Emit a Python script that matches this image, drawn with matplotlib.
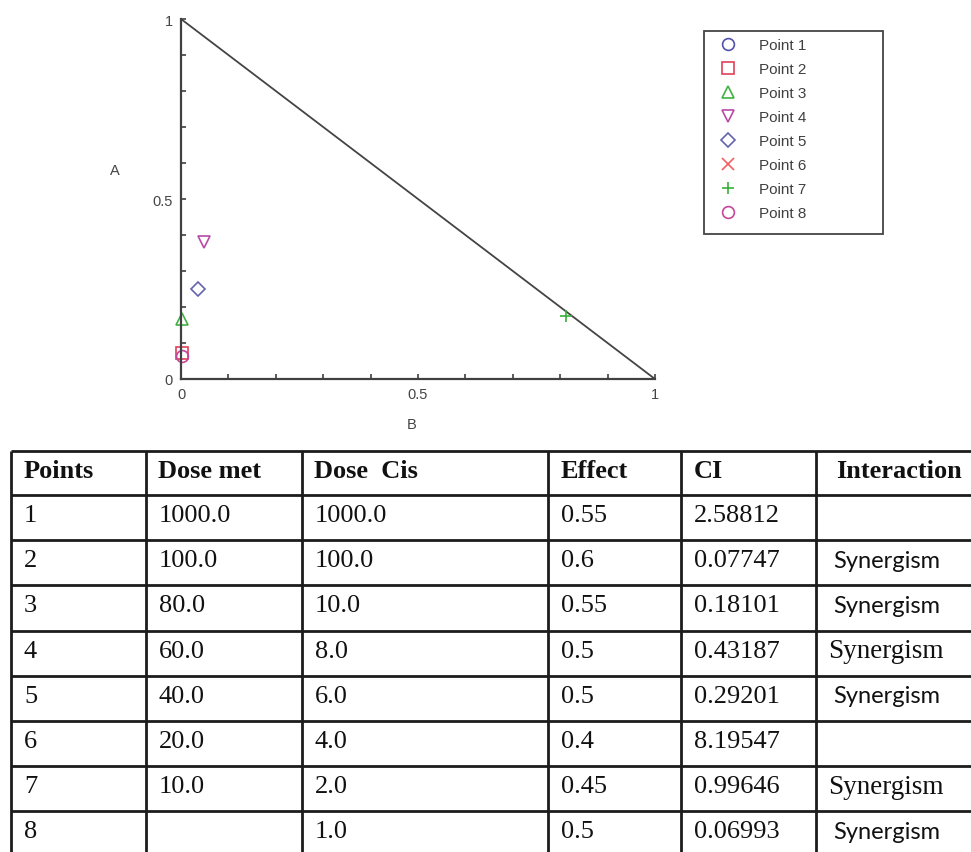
import numpy as np
import matplotlib
matplotlib.use("Agg")
import matplotlib.pyplot as plt
from matplotlib.patches import Rectangle

# Normalised isobologram coordinates (B = Cis, A = met); points 1 and 6 fall off the chart
point_labels = ["Point 1", "Point 2", "Point 3", "Point 4",
                "Point 5", "Point 6", "Point 7", "Point 8"]
norm_b = [np.nan, 0.002, 0.002, 0.048, 0.036, np.nan, 0.813, 0.003]
norm_a = [np.nan, 0.072, 0.166, 0.381, 0.249, np.nan, 0.176, 0.064]
markers = ["o", "s", "^", "v", "D", "x", "+", "o"]
colors = ["#5252aa", "#e0405a", "#44b044", "#b84aa8",
          "#6464ae", "#f06060", "#38b038", "#c2489a"]

# Table contents
table_header = ["Points", "Dose met", "Dose  Cis", "Effect", "CI", "Interaction"]
points = ["1", "2", "3", "4", "5", "6", "7", "8"]
dose_met = ["1000.0", "100.0", "80.0", "60.0", "40.0", "20.0", "10.0", ""]
dose_cis = ["1000.0", "100.0", "10.0", "8.0", "6.0", "4.0", "2.0", "1.0"]
effect = ["0.55", "0.6", "0.55", "0.5", "0.5", "0.4", "0.45", "0.5"]
ci = ["2.58812", "0.07747", "0.18101", "0.43187", "0.29201", "8.19547", "0.99646", "0.06993"]
interaction = ["", "Synergism", "Synergism", "Synergism", "Synergism", "", "Synergism", "Synergism"]
interaction_font = ["", "sans", "sans", "serif", "sans", "", "serif", "sans"]

W, H = 971, 853
fig = plt.figure(figsize=(W / 100, H / 100), dpi=100)
fig.patch.set_facecolor("white")

# ---- isobologram ----
x0, x1, y0, y1 = 181, 655, 380, 20
ax = fig.add_axes([x0 / W, 1 - y0 / H, (x1 - x0) / W, (y0 - y1) / H])
ax.plot([0, 1], [1, 0], color="#444444", lw=1.3)
for b, a, m, c, lab in zip(norm_b, norm_a, markers, colors, point_labels):
    ax.plot([b], [a], linestyle="none", marker=m, ms=8.5 if m != "D" else 7,
            mfc="none", mec=c, mew=1.2, label=lab, clip_on=False)

ax.set_xlim(0, 1)
ax.set_ylim(0, 1)
for side in ("top", "right"):
    ax.spines[side].set_visible(False)
for side in ("left", "bottom"):
    ax.spines[side].set_color("#404040")
    ax.spines[side].set_linewidth(1.6)
ax.set_xticks([0, 0.5, 1])
ax.set_yticks([0, 0.5, 1])
ax.set_xticklabels(["0", "0.5", "1"])
ax.set_yticklabels(["0", "0.5", "1"])
ax.set_xticks(np.arange(0, 1.01, 0.1), minor=True)
ax.set_yticks(np.arange(0, 1.01, 0.1), minor=True)
ax.tick_params(which="both", direction="in", length=3.5, width=1.2, color="#404040",
               labelsize=10.5, labelcolor="#444444")
ax.tick_params(axis="x", pad=6)
ax.tick_params(axis="y", pad=6)
for t in ax.get_xticklabels() + ax.get_yticklabels():
    t.set_family("Liberation Sans")

ax.set_xlabel("B", fontsize=10.5, color="#444444", family="Liberation Sans")
ax.xaxis.set_label_coords(0.487, -0.105)
ax.set_ylabel("A", fontsize=10.5, color="#444444", family="Liberation Sans", rotation=0)
ax.yaxis.set_label_coords(-0.139, 0.56)

# legend box drawn separately so it can be wider than its entries
leg_left, leg_top, leg_right, leg_bottom = 704, 32, 883, 235
fig.add_artist(Rectangle((leg_left / W, 1 - leg_bottom / H),
                         (leg_right - leg_left) / W, (leg_bottom - leg_top) / H,
                         transform=fig.transFigure, facecolor="white",
                         edgecolor="#444444", lw=1.3, zorder=1))
leg = fig.legend(loc="upper left", bbox_to_anchor=(leg_left / W, 1 - leg_top / H),
                 frameon=False, prop={"family": "Liberation Sans", "size": 11},
                 labelspacing=0.66, handlelength=2.2, handletextpad=0.93,
                 borderpad=0.45, borderaxespad=0)
leg.set_zorder(2)
for t in leg.get_texts():
    t.set_color("#404040")

# ---- table ----
tab = fig.add_axes([0, 0, 1, 1])
tab.set_xlim(0, W)
tab.set_ylim(H, 0)
tab.axis("off")

col_x = [11, 145.5, 301.5, 548, 681, 816]
table_top, header_bottom, row_h = 452, 496, 45.2
row_y = [table_top, header_bottom] + [header_bottom + row_h * (i + 1) for i in range(len(points))]
line_kw = dict(color="#1c1c1c", lw=2.0, solid_capstyle="butt")
for y in row_y[:-1]:
    tab.plot([col_x[0], W], [y, y], **line_kw)
for x in col_x:
    tab.plot([x, x], [table_top, H], **line_kw)

serif = "Liberation Serif"
for j, h in enumerate(table_header):
    dx = 20 if j == 5 else 13
    tab.text(col_x[j] + dx, table_top + 19, h, family=serif, fontweight="bold",
             fontsize=19, va="center", ha="left", color="#111111")

columns = [points, dose_met, dose_cis, effect, ci]
for i in range(len(points)):
    yc = row_y[i + 1] + 20
    for j, col in enumerate(columns):
        tab.text(col_x[j] + 13, yc, col[i], family=serif, fontsize=19,
                 va="center", ha="left", color="#111111")
    if interaction[i]:
        if interaction_font[i] == "sans":
            tab.text(col_x[5] + 17, yc, interaction[i], family="Lato", fontsize=17,
                     va="center", ha="left", color="#111111")
        else:
            tab.text(col_x[5] + 12, yc, interaction[i], family=serif, fontsize=19.5,
                     va="center", ha="left", color="#111111")

fig.savefig("out.png", dpi=100, facecolor="white")
